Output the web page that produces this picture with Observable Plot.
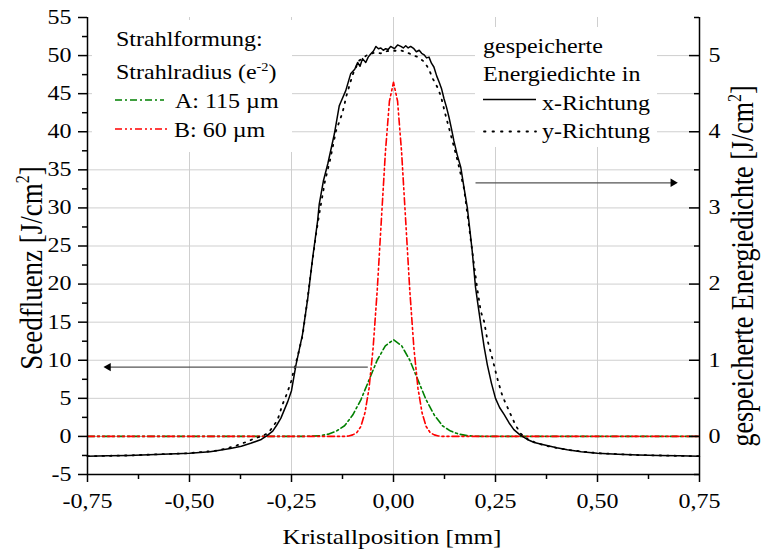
<!DOCTYPE html>
<html><head><meta charset="utf-8">
<script src="https://cdn.jsdelivr.net/npm/d3@7"></script>
<script src="https://cdn.jsdelivr.net/npm/@observablehq/plot@0.6"></script>
<style>body{margin:0;background:#fff} svg text{font-family:"Liberation Serif","Times New Roman",Times,serif;}</style>
</head><body><div id="chart"></div>
<script>
// ---- data ----
const xRichtung = [[-0.75,-2.6],[-0.70,-2.55],[-0.65,-2.5],[-0.60,-2.4],[-0.55,-2.3],[-0.50,-2.2],[-0.45,-2.0],[-0.43,-1.85],[-0.40,-1.6],[-0.373,-1.3],[-0.35,-0.9],[-0.324,-0.4],[-0.31,0.1],[-0.296,0.7],[-0.286,1.5],[-0.276,2.4],[-0.259,4.6],[-0.25,6.0],[-0.239,9.4],[-0.223,13.4],[-0.210,18.2],[-0.198,23.5],[-0.186,28.3],[-0.182,30.5],[-0.172,33.5],[-0.161,35.8],[-0.145,39.7],[-0.133,43.4],[-0.129,43.9],[-0.117,45.4],[-0.105,47.6],[-0.095,48.2],[-0.088,49.1],[-0.082,48.6],[-0.076,49.6],[-0.068,49.1],[-0.062,49.8],[-0.056,50.2],[-0.049,50.6],[-0.043,51.2],[-0.037,50.9],[-0.031,51.0],[-0.025,50.7],[-0.019,50.9],[-0.013,50.8],[-0.007,51.2],[0.002,50.9],[0.010,51.4],[0.018,51.2],[0.024,51.0],[0.030,51.3],[0.036,51.0],[0.042,51.2],[0.050,50.9],[0.056,50.5],[0.063,50.7],[0.069,50.3],[0.075,50.1],[0.081,49.7],[0.087,49.8],[0.093,49.0],[0.099,48.5],[0.106,47.3],[0.112,46.5],[0.118,45.6],[0.124,44.3],[0.130,43.2],[0.136,41.9],[0.142,40.4],[0.148,38.8],[0.156,37.0],[0.165,35.3],[0.173,32.6],[0.181,30.0],[0.187,27.2],[0.193,24.3],[0.201,19.6],[0.207,17.3],[0.214,14.7],[0.222,11.8],[0.230,9.4],[0.240,7.0],[0.250,5.0],[0.260,3.8],[0.271,2.9],[0.283,1.8],[0.295,0.9],[0.31,0.2],[0.328,-0.4],[0.345,-0.8],[0.368,-1.1],[0.40,-1.5],[0.426,-1.75],[0.46,-2.0],[0.50,-2.2],[0.55,-2.35],[0.60,-2.45],[0.65,-2.5],[0.70,-2.55],[0.75,-2.6]];
const yRichtung = [[-0.75,-2.6],[-0.65,-2.5],[-0.55,-2.3],[-0.50,-2.2],[-0.43,-1.85],[-0.39,-1.3],[-0.365,-0.8],[-0.342,-0.3],[-0.325,0.0],[-0.308,0.4],[-0.295,1.3],[-0.284,2.2],[-0.272,4.2],[-0.262,5.5],[-0.251,7.2],[-0.247,8.1],[-0.235,10.5],[-0.223,13.2],[-0.212,17.5],[-0.200,22.5],[-0.190,26.5],[-0.182,29.2],[-0.168,33.5],[-0.155,36.4],[-0.141,40.1],[-0.125,42.5],[-0.115,44.8],[-0.100,47.5],[-0.085,49.3],[-0.064,50.1],[-0.045,50.4],[-0.031,50.3],[-0.015,50.6],[0.0,50.6],[0.015,50.7],[0.030,50.5],[0.046,50.1],[0.06,49.8],[0.075,49.2],[0.087,48.2],[0.095,47.1],[0.108,45.8],[0.116,44.7],[0.128,42.1],[0.140,39.7],[0.157,36.2],[0.173,32.5],[0.185,27.6],[0.195,23.5],[0.205,19.5],[0.214,16.4],[0.222,15.1],[0.230,12.7],[0.242,10.3],[0.254,7.7],[0.267,5.3],[0.287,2.9],[0.299,1.5],[0.311,0.4],[0.330,-0.4],[0.352,-0.9],[0.38,-1.3],[0.43,-1.8],[0.50,-2.2],[0.60,-2.45],[0.75,-2.6]];
const strahlA = [[-0.75,0],[-0.22,0],[-0.20,0.03],[-0.18,0.1],[-0.16,0.3],[-0.14,0.7],[-0.12,1.4],[-0.10,2.8],[-0.08,4.8],[-0.06,7.4],[-0.04,10.0],[-0.02,11.9],[0,12.7],[0.02,11.9],[0.04,10.0],[0.06,7.4],[0.08,4.8],[0.10,2.8],[0.12,1.4],[0.14,0.7],[0.16,0.3],[0.18,0.1],[0.20,0.03],[0.22,0],[0.75,0]];
const strahlB = [[-0.75,0],[-0.12,0],[-0.11,0.06],[-0.10,0.2],[-0.09,0.5],[-0.08,1.3],[-0.07,3.1],[-0.06,6.3],[-0.05,11.6],[-0.04,19.1],[-0.03,28.2],[-0.02,37.2],[-0.01,44.0],[0,46.5],[0.01,44.0],[0.02,37.2],[0.03,28.2],[0.04,19.1],[0.05,11.6],[0.06,6.3],[0.07,3.1],[0.08,1.3],[0.09,0.5],[0.10,0.2],[0.11,0.06],[0.12,0],[0.75,0]];
const xDomain = [-0.75, 0.75];
const yDomain = [-5, 55];
const xTicks = [-0.75, -0.5, -0.25, 0, 0.25, 0.5, 0.75];
const xMinorTicks = [-0.625, -0.375, -0.125, 0.125, 0.375, 0.625];
const yTicks = [-5, 0, 5, 10, 15, 20, 25, 30, 35, 40, 45, 50, 55];
const yMinorTicks = [-2.5, 2.5, 7.5, 12.5, 17.5, 22.5, 27.5, 32.5, 37.5, 42.5, 47.5, 52.5];
const rightTicks = [0, 1, 2, 3, 4, 5];            // gespeicherte Energiedichte
const rightMinorTicks = [-0.5, 0.5, 1.5, 2.5, 3.5, 4.5, 5.5];
const rightFactor = 10;                            // left = right * 10
const arrows = [
  {x1: -0.063, y1: 9.1, x2: -0.699, y2: 9.1, angle: -90},
  {x1: 0.201, y1: 33.3, x2: 0.685, y2: 33.3, angle: 90}
];
const xTitle = "Kristallposition [mm]";
const yTitle = "Seedfluenz [J/cm";
const y2Title = "gespeicherte Energiedichte [J/cm";

// ---- layout ----
const W = 762, H = 556, mL = 87, mR = 63, mT = 17, mB = 82;
const frameW = W - mL - mR;
const FONT = "'Liberation Serif','Times New Roman',Times,serif";
const FS = 20, SX = 1.2;
const toObj = a => a.map(([x, y]) => ({x, y}));
const comma = d => (d < 0 ? "-" : "") + Math.abs(d).toFixed(2).replace(".", ",");
const gridStyle = {stroke: "#cfcfcf", strokeOpacity: 1, strokeWidth: 1};

const chart = Plot.plot({
  width: W, height: H,
  marginLeft: mL, marginRight: mR, marginTop: mT, marginBottom: mB,
  style: {fontFamily: FONT, fontSize: FS + "px", color: "black", background: "white"},
  x: {domain: xDomain, label: null},
  y: {domain: yDomain, label: null},
  marks: [
    Plot.gridX(xTicks.slice(1, -1), gridStyle),
    Plot.gridY(yTicks.slice(1, -1), gridStyle),
    Plot.line(toObj(strahlA), {x: "x", y: "y", stroke: "#008000", strokeWidth: 1.6, strokeDasharray: "7,3,2,3"}),
    Plot.line(toObj(strahlB), {x: "x", y: "y", stroke: "#ff0000", strokeWidth: 1.6, strokeDasharray: "7,3,2,3,2,3"}),
    Plot.line(toObj(yRichtung), {x: "x", y: "y", stroke: "black", strokeWidth: 1.8, strokeDasharray: "1.5,6", strokeLinecap: "round"}),
    Plot.line(toObj(xRichtung), {x: "x", y: "y", stroke: "black", strokeWidth: 1.5}),
    Plot.link(arrows, {x1: "x1", y1: "y1", x2: "x2", y2: "y2", stroke: "#555", strokeWidth: 1.2}),
    Plot.dot(arrows, {x: "x2", y: "y2", symbol: "triangle2", rotate: "angle", r: 4, fill: "black", stroke: "none"}),
    // axes
    Plot.axisX(xTicks, {tickSize: 8, tickPadding: 11, tickFormat: comma, fontSize: FS, strokeWidth: 1.5}),
    Plot.axisX(xMinorTicks, {tickSize: 5, tickFormat: () => "", strokeWidth: 1.5}),
    Plot.axisY(yTicks, {anchor: "left", tickSize: 9, tickPadding: 7, tickFormat: d => String(d), fontSize: FS, strokeWidth: 1.5}),
    Plot.axisY(yMinorTicks, {anchor: "left", tickSize: 5, tickFormat: () => "", strokeWidth: 1.5}),
    Plot.axisY(rightTicks.map(v => v * rightFactor), {anchor: "right", tickSize: 0, tickPadding: 9, tickFormat: d => String(d / rightFactor), fontSize: FS}),
    Plot.tickY(rightTicks.map(v => v * rightFactor), {y: d => d, insetLeft: frameW - 10, stroke: "black", strokeWidth: 1.5}),
    Plot.tickY(rightMinorTicks.map(v => v * rightFactor), {y: d => d, insetLeft: frameW - 5, stroke: "black", strokeWidth: 1.5}),
    Plot.ruleX(xDomain, {stroke: "black", strokeWidth: 1.5}),
    Plot.ruleY([yDomain[0]], {stroke: "black", strokeWidth: 1.5})
  ]
});
document.getElementById("chart").appendChild(chart);

// widen the axis tick labels horizontally (the reference type is wide)
d3.select(chart).selectAll("text").each(function () {
  if (!this.textContent) return;
  const L = this.getComputedTextLength();
  if (L > 0) {
    this.setAttribute("textLength", (L * SX).toFixed(2));
    this.setAttribute("lengthAdjust", "spacingAndGlyphs");
  }
});

// ---- legends and titles (overlay text) ----
const svg = d3.select(chart);
const g = svg.append("g").attr("font-family", FONT).attr("font-size", FS).attr("fill", "black").attr("text-anchor", "start");
function txt(x, y, size) {
  return g.append("text").attr("transform", `translate(${x},${y}) scale(${SX},1)`).attr("font-size", size || FS);
}
function sup(textSel, main, supText, tail, size) {
  const s = size || FS;
  textSel.append("tspan").text(main);
  textSel.append("tspan").attr("font-size", Math.round(s * 0.6)).attr("dy", -s * 0.4).text(supText);
  textSel.append("tspan").attr("dy", s * 0.4).text(tail);
}
// left legend
g.append("rect").attr("x", 92).attr("y", 20).attr("width", 200).attr("height", 132).attr("fill", "white");
txt(116, 46).text("Strahlformung:");
sup(txt(116, 79), "Strahlradius (e", "-2", ")");
g.append("line").attr("x1", 115).attr("x2", 164).attr("y1", 100).attr("y2", 100)
  .attr("stroke", "#008000").attr("stroke-width", 1.6).attr("stroke-dasharray", "7,3,2,3");
txt(175, 108).text("A: 115 µm");
g.append("line").attr("x1", 115).attr("x2", 168).attr("y1", 129).attr("y2", 129)
  .attr("stroke", "#ff0000").attr("stroke-width", 1.6).attr("stroke-dasharray", "7,3,2,3,2,3");
txt(174, 137).text("B: 60 µm");
// right legend
g.append("rect").attr("x", 475).attr("y", 27).attr("width", 182).attr("height", 120).attr("fill", "white");
txt(483, 53).text("gespeicherte");
txt(483, 81).text("Energiedichte in");
g.append("line").attr("x1", 483).attr("x2", 536).attr("y1", 99.5).attr("y2", 99.5)
  .attr("stroke", "black").attr("stroke-width", 1.5);
txt(542, 110).text("x-Richtung");
g.append("line").attr("x1", 484).attr("x2", 536).attr("y1", 131.5).attr("y2", 131.5)
  .attr("stroke", "black").attr("stroke-width", 1.8).attr("stroke-dasharray", "1.5,7").attr("stroke-linecap", "round");
txt(542, 138).text("y-Richtung");
// axis titles
txt(392, 544, 21).attr("text-anchor", "middle").text(xTitle);
sup(g.append("text").attr("transform", `translate(42,268) scale(${SX},1) rotate(-90)`).attr("text-anchor", "middle").attr("font-size", 27), yTitle, "2", "]", 27);
sup(g.append("text").attr("transform", `translate(753,266) scale(${SX},1) rotate(-90)`).attr("text-anchor", "middle").attr("font-size", 26), y2Title, "2", "]", 26);
</script></body></html>
